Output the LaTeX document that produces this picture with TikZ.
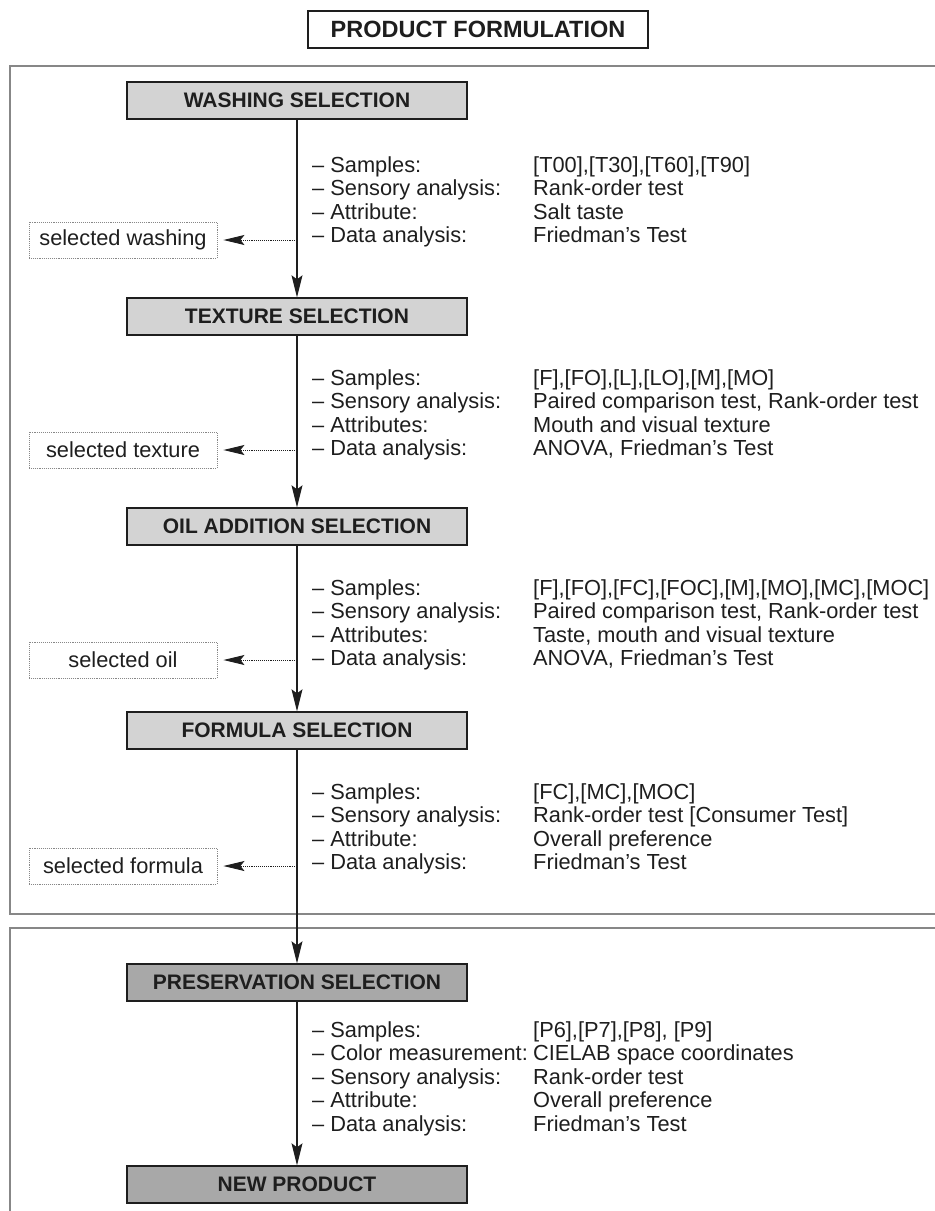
\documentclass[tikz,border=0pt]{standalone}
\usepackage{fontspec}
\setmainfont{Liberation Sans}
\usetikzlibrary{arrows.meta,positioning}

\definecolor{ink}{RGB}{30,30,30}
\definecolor{lightbox}{RGB}{211,211,211}
\definecolor{darkbox}{RGB}{168,168,168}
\definecolor{framegray}{RGB}{135,135,135}

\newcommand{\factlist}[1]{\begin{tabular}[t]{@{}p{221pt}@{}l@{}}#1\end{tabular}}
\newcommand{\fdash}{\textendash\ }

\begin{document}
\begin{tikzpicture}[x=1pt,y=-1pt,
	stage/.style={draw=ink,line width=1.4pt,fill=lightbox,minimum width=340pt,minimum height=37pt,inner sep=0pt,text=ink,font=\fontsize{21}{24}\selectfont\bfseries},
	stagedark/.style={stage,fill=darkbox},
	picked/.style={draw=framegray,densely dotted,line width=0.9pt,minimum width=188pt,minimum height=36pt,inner sep=0pt,text=ink,font=\fontsize{21.8}{24}\selectfont},
	facts/.style={anchor=base west,inner sep=0pt,text=ink,font=\fontsize{21.8}{23.5}\selectfont},
	flow/.style={draw=ink,line width=1.1pt,-{Stealth[length=22pt,width=11pt,inset=4pt]}},
	pick/.style={draw=ink,line width=0.9pt,densely dotted,shorten >=6pt,-{Stealth[length=21pt,width=10pt,inset=4pt]}},
	frame/.style={draw=framegray,line width=1.4pt}]
	\useasboundingbox (0,0) rectangle (935,1211);

	% frames
	\draw [frame] (935,66) -- (10,66) -- (10,914) -- (935,914);
	\draw [frame] (935,928) -- (10,928) -- (10,1211);

	\node [draw=ink,line width=1.4pt,fill=white,minimum width=340pt,minimum height=37pt,inner sep=0pt,text=ink,font=\fontsize{23.5}{26}\selectfont\bfseries] (title) at (478,29.5) {PRODUCT FORMULATION};

	% stages
	\node [stage] (washing) at (297,100.5) {WASHING SELECTION};
	\node [stage] (texture) at (297,316.5) {TEXTURE SELECTION};
	\node [stage] (oil) at (297,526.5) {OIL ADDITION SELECTION};
	\node [stage] (formula) at (297,730.5) {FORMULA SELECTION};
	\node [stagedark] (preserv) at (297,982.5) {PRESERVATION SELECTION};
	\node [stagedark] (newprod) at (297,1184.5) {NEW PRODUCT};

	% selected results
	\node [picked] (selwash) at (123,240) {selected washing};
	\node [picked] (seltext) at (123,450) {selected texture};
	\node [picked] (seloil) at (123,660) {selected oil};
	\node [picked] (selform) at (123,866) {selected formula};

	% test details
	\node [facts] (factwash) at (312,172) {\factlist{%
		\fdash Samples: & [T00],[T30],[T60],[T90]\\
		\fdash Sensory analysis: & Rank-order test\\
		\fdash Attribute: & Salt taste\\
		\fdash Data analysis: & Friedman’s Test}};
	\node [facts] (facttext) at (312,385) {\factlist{%
		\fdash Samples: & [F],[FO],[L],[LO],[M],[MO]\\
		\fdash Sensory analysis: & Paired comparison test, Rank-order test\\
		\fdash Attributes: & Mouth and visual texture\\
		\fdash Data analysis: & ANOVA, Friedman’s Test}};
	\node [facts] (factoil) at (312,595) {\factlist{%
		\fdash Samples: & [F],[FO],[FC],[FOC],[M],[MO],[MC],[MOC]\\
		\fdash Sensory analysis: & Paired comparison test, Rank-order test\\
		\fdash Attributes: & Taste, mouth and visual texture\\
		\fdash Data analysis: & ANOVA, Friedman’s Test}};
	\node [facts] (factform) at (312,799) {\factlist{%
		\fdash Samples: & [FC],[MC],[MOC]\\
		\fdash Sensory analysis: & Rank-order test [Consumer Test]\\
		\fdash Attribute: & Overall preference\\
		\fdash Data analysis: & Friedman’s Test}};
	\node [facts] (factpres) at (312,1037) {\factlist{%
		\fdash Samples: & [P6],[P7],[P8], [P9]\\
		\fdash Color measurement: & CIELAB space coordinates\\
		\fdash Sensory analysis: & Rank-order test\\
		\fdash Attribute: & Overall preference\\
		\fdash Data analysis: & Friedman’s Test}};

	\draw [flow] (washing) to (texture);
	\draw [flow] (texture) to (oil);
	\draw [flow] (oil) to (formula);
	\draw [flow] (formula) to (preserv);
	\draw [flow] (preserv) to (newprod);

	\draw [pick] (washing.south |- selwash.east) to (selwash.east);
	\draw [pick] (texture.south |- seltext.east) to (seltext.east);
	\draw [pick] (oil.south |- seloil.east) to (seloil.east);
	\draw [pick] (formula.south |- selform.east) to (selform.east);
\end{tikzpicture}
\end{document}
